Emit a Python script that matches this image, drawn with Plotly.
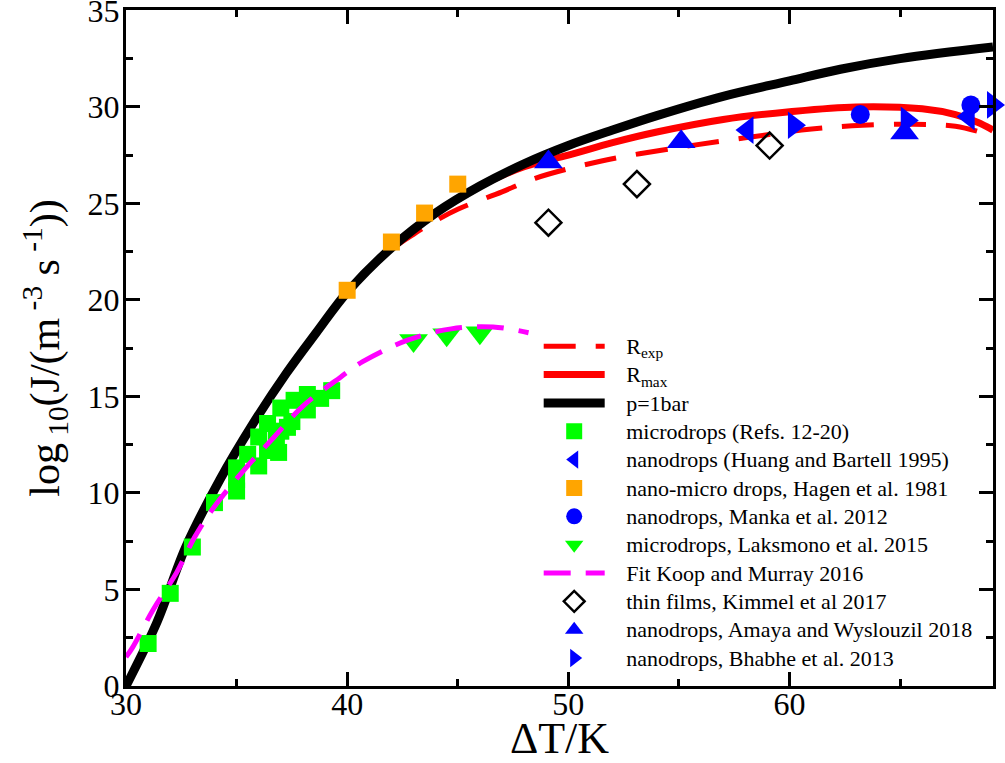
import plotly.graph_objects as go

# ---- data ----
pbar_x = [30, 31.4, 32.7, 34.25, 35.75, 37.25, 38.6, 40, 42, 44, 46, 48, 50, 52, 54, 57, 60, 62.3, 65, 69.2]
pbar_y = [0, 3.3, 7.2, 10.7, 13.6, 16.2, 18.3, 20.4, 22.7, 24.5, 25.9, 27.05, 28.0, 28.8, 29.55, 30.55, 31.35, 31.95, 32.5, 33.1]

rexp_x = [30, 31.4, 32.7, 34.25, 35.75, 37.25, 38.6, 40, 42, 43, 44, 45, 47, 48.5, 51.5, 55, 58, 61, 63.3, 65.6, 67.5, 69.2]
rexp_y = [0, 3.3, 7.2, 10.7, 13.6, 16.2, 18.3, 20.4, 22.6, 23.4, 24.1, 24.7, 25.6, 26.3, 27.2, 27.9, 28.4, 28.85, 29.05, 29.1, 29.0, 28.5]

rmax_x = [30, 31.4, 32.7, 34.25, 35.75, 37.25, 38.6, 40, 42, 44, 46, 48, 50, 52, 54, 57, 60, 63, 66, 67.5, 68.5, 69.2]
rmax_y = [0, 3.3, 7.2, 10.7, 13.6, 16.2, 18.3, 20.4, 22.7, 24.5, 25.9, 26.9, 27.5, 28.15, 28.7, 29.35, 29.75, 30.0, 29.9, 29.6, 29.2, 28.8]

micro_x = [31.0, 32.0, 33.0, 34.0, 35.0, 35.0, 35.0, 35.5, 36.0, 36.0, 36.4, 36.8, 36.9, 37.0, 37.3, 37.5, 37.6, 38.2, 38.2, 38.8, 39.3, 36.4, 37.0]
micro_y = [2.2, 4.8, 7.2, 9.5, 10.1, 10.7, 11.3, 12.0, 11.4, 12.9, 12.2, 12.8, 12.1, 14.4, 13.4, 13.7, 14.8, 14.3, 15.1, 14.9, 15.3, 13.6, 13.2]

huang_x = [58.1, 68.1]
huang_y = [28.8, 29.5]

hagen_x = [40, 42, 43.5, 45]
hagen_y = [20.5, 23.0, 24.5, 26.0]

manka_x = [63.2, 68.2]
manka_y = [29.6, 30.1]

laks_x = [43.0, 44.5, 46.0]
laks_y = [17.9, 18.2, 18.3]

koop_x = [30, 30.3, 31.2, 32.3, 33.1, 34.0, 35.5, 36.7, 38.0, 39.7, 40.7, 42.7, 44.7, 46.6, 48.2]
koop_y = [1.5, 2.0, 3.9, 5.9, 7.7, 9.3, 11.4, 12.9, 14.5, 16.0, 16.8, 17.9, 18.5, 18.6, 18.3]

kimmel_x = [49.1, 53.1, 59.1]
kimmel_y = [24.0, 26.0, 28.0]

amaya_x = [49.1, 55.1, 65.2]
amaya_y = [27.15, 28.2, 28.65]

bhabhe_x = [60.2, 65.3, 69.2]
bhabhe_y = [29.05, 29.3, 30.1]

FONT = "Liberation Serif, Times New Roman, serif"


def lg(label):
    # legend label with a larger glyph size than the row height font, plus a small gap
    return '<span style="font-size:22px">\u00a0\u00a0\u00a0' + label + '</span>'


fig = go.Figure()
fig.add_trace(go.Scatter(x=rexp_x, y=rexp_y, mode="lines", name=lg("R<sub>exp</sub>"),
                         line=dict(color="#ff0000", width=5, dash="32px,20px", shape="spline")))
fig.add_trace(go.Scatter(x=rmax_x, y=rmax_y, mode="lines", name=lg("R<sub>max</sub>"),
                         line=dict(color="#ff0000", width=7, shape="spline")))
fig.add_trace(go.Scatter(x=pbar_x, y=pbar_y, mode="lines", name=lg("p=1bar"),
                         line=dict(color="#000000", width=9, shape="spline")))
fig.add_trace(go.Scatter(x=micro_x, y=micro_y, mode="markers", name=lg("microdrops (Refs. 12-20)"),
                         marker=dict(symbol="square", size=17, color="#00ff00")))
fig.add_trace(go.Scatter(x=huang_x, y=huang_y, mode="markers", name=lg("nanodrops (Huang and Bartell 1995)"),
                         marker=dict(symbol="triangle-left", size=24, color="#0000ff")))
fig.add_trace(go.Scatter(x=hagen_x, y=hagen_y, mode="markers", name=lg("nano-micro drops, Hagen et al. 1981"),
                         marker=dict(symbol="square", size=17, color="#ffa500")))
fig.add_trace(go.Scatter(x=manka_x, y=manka_y, mode="markers", name=lg("nanodrops, Manka et al. 2012"),
                         marker=dict(symbol="circle", size=19, color="#0000ff")))
fig.add_trace(go.Scatter(x=laks_x, y=laks_y, mode="markers", name=lg("microdrops, Laksmono et al. 2015"),
                         marker=dict(symbol="triangle-down", size=25, color="#00ff00")))
fig.add_trace(go.Scatter(x=koop_x, y=koop_y, mode="lines", name=lg("Fit Koop and Murray 2016"),
                         line=dict(color="#ff00ff", width=5, dash="27px,15px", shape="spline")))
fig.add_trace(go.Scatter(x=kimmel_x, y=kimmel_y, mode="markers", name=lg("thin films, Kimmel et al 2017"),
                         marker=dict(symbol="diamond-open", size=20, color="#000000",
                                     line=dict(width=2.5, color="#000000"))))
fig.add_trace(go.Scatter(x=amaya_x, y=amaya_y, mode="markers", name=lg("nanodrops, Amaya and Wyslouzil 2018"),
                         marker=dict(symbol="triangle-up", size=25, color="#0000ff")))
fig.add_trace(go.Scatter(x=bhabhe_x, y=bhabhe_y, mode="markers", name=lg("nanodrops, Bhabhe et al. 2013"),
                         marker=dict(symbol="triangle-right", size=24, color="#0000ff"), cliponaxis=False))

axis_common = dict(showline=True, linecolor="black", linewidth=3, mirror="allticks",
                   ticks="inside", ticklen=14, tickwidth=2.5, tickcolor="black",
                   showgrid=False, zeroline=False, automargin=False,
                   ticklabeloverflow="allow",
                   tickfont=dict(family=FONT, size=32, color="black"))

fig.update_xaxes(range=[30, 69.2], dtick=10, tick0=30, ticklabelstandoff=-12,
                 minor=dict(dtick=5, ticks="inside", ticklen=7, tickwidth=2.5, tickcolor="black"),
                 title=dict(text="ΔT/K", font=dict(family=FONT, size=44, color="black")),
                 **axis_common)
fig.update_yaxes(range=[0, 35.02], dtick=5, tick0=0, ticklabelstandoff=-3,
                 minor=dict(dtick=2.5, ticks="inside", ticklen=7, tickwidth=2.5, tickcolor="black"),
                 title=dict(text="log<sub> 10</sub>(J/(m<sup> -3</sup> s<sup> -1</sup>))",
                            font=dict(family=FONT, size=42, color="black")),
                 **axis_common)

fig.update_layout(
    width=1005, height=763,
    margin=dict(l=126, r=12, t=10, b=77, autoexpand=False),
    paper_bgcolor="white", plot_bgcolor="white",
    font=dict(family=FONT, color="black"),
    legend=dict(x=0.476, y=0.531, xanchor="left", yanchor="top",
                bgcolor="rgba(0,0,0,0)", itemwidth=61, tracegroupgap=0,
                font=dict(family=FONT, size=19.5, color="black")),
)

fig.write_html("out.html", config={"displayModeBar": False},
               post_script="document.body.style.margin='0';document.body.style.padding='0';")
